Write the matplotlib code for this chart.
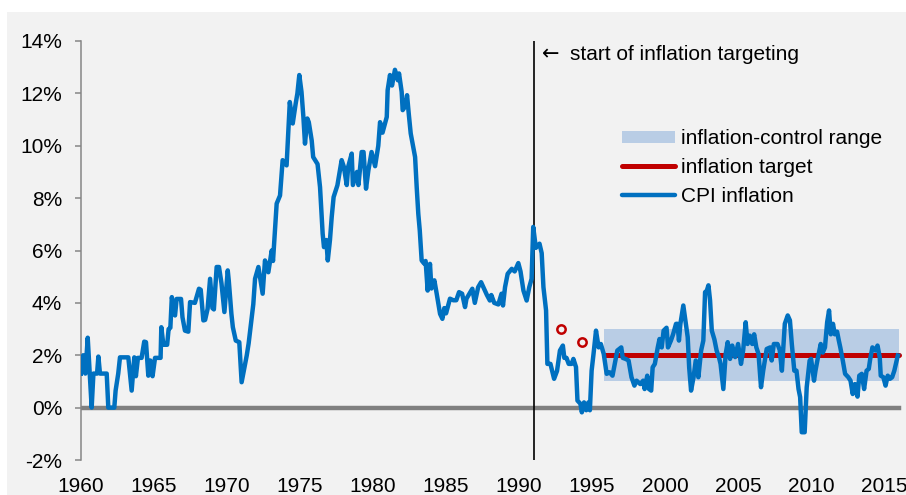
import matplotlib
matplotlib.use("Agg")
import matplotlib.pyplot as plt
from matplotlib.patches import Rectangle, Patch
from matplotlib.lines import Line2D

plt.rcParams['font.family'] = ['Liberation Sans', 'DejaVu Sans']

# CPI inflation (y/y, %)
years = [
    1960.00, 1960.15, 1960.30, 1960.46, 1960.60, 1960.73, 1960.85, 1961.10, 1961.19, 1961.30,
    1961.76, 1961.87, 1962.28, 1962.37, 1962.55, 1962.67, 1963.24, 1963.35, 1963.47, 1963.65,
    1963.76, 1963.90, 1964.15, 1964.33, 1964.45, 1964.61, 1964.75, 1964.90, 1965.07, 1965.45,
    1965.50, 1965.64, 1965.90, 1966.00, 1966.12, 1966.22, 1966.44, 1966.55, 1966.85, 1966.95,
    1967.12, 1967.35, 1967.47, 1967.80, 1968.08, 1968.20, 1968.38, 1968.50, 1968.67, 1968.84,
    1969.00, 1969.10, 1969.29, 1969.45, 1969.62, 1969.82, 1970.05, 1970.12, 1970.30, 1970.40,
    1970.60, 1970.84, 1971.00, 1971.15, 1971.35, 1971.48, 1971.69, 1971.80, 1971.92, 1972.15,
    1972.30, 1972.44, 1972.60, 1972.83, 1973.06, 1973.15, 1973.40, 1973.63, 1973.81, 1974.08,
    1974.20, 1974.30, 1974.50, 1974.70, 1974.82, 1974.95, 1975.10, 1975.23, 1975.34, 1975.50,
    1975.60, 1975.80, 1975.90, 1976.20, 1976.37, 1976.55, 1976.64, 1976.80, 1976.90, 1977.05,
    1977.17, 1977.30, 1977.56, 1977.85, 1978.00, 1978.20, 1978.30, 1978.54, 1978.62, 1978.90,
    1979.00, 1979.22, 1979.35, 1979.52, 1979.68, 1979.90, 1980.14, 1980.36, 1980.48, 1980.65,
    1980.94, 1981.00, 1981.16, 1981.30, 1981.50, 1981.70, 1981.78, 1981.96, 1982.03, 1982.20,
    1982.33, 1982.45, 1982.58, 1982.88, 1982.99, 1983.10, 1983.20, 1983.33, 1983.50, 1983.60,
    1983.74, 1983.90, 1984.00, 1984.20, 1984.36, 1984.59, 1984.75, 1984.88, 1985.00, 1985.27,
    1985.50, 1985.70, 1985.89, 1986.10, 1986.30, 1986.40, 1986.60, 1986.80, 1986.97, 1987.20,
    1987.40, 1987.60, 1987.80, 1988.00, 1988.10, 1988.30, 1988.58, 1988.80, 1988.90, 1989.04,
    1989.22, 1989.50, 1989.70, 1989.95, 1990.10, 1990.30, 1990.52, 1990.70, 1990.86, 1990.97,
    1991.15, 1991.40, 1991.55, 1991.67, 1991.85, 1991.94, 1992.15, 1992.40, 1992.60, 1992.80,
    1993.00, 1993.10, 1993.25, 1993.40, 1993.60, 1993.72, 1993.90, 1994.00, 1994.20, 1994.30,
    1994.45, 1994.60, 1994.75, 1994.85, 1994.97, 1995.10, 1995.27, 1995.45, 1995.60, 1995.80,
    1996.00, 1996.20, 1996.40, 1996.60, 1996.73, 1997.00, 1997.10, 1997.30, 1997.50, 1997.70,
    1997.90, 1998.05, 1998.30, 1998.50, 1998.60, 1998.78, 1998.90, 1999.05, 1999.15, 1999.30,
    1999.50, 1999.62, 1999.77, 1999.90, 2000.10, 2000.20, 2000.40, 2000.55, 2000.75, 2000.85,
    2000.95, 2001.05, 2001.25, 2001.40, 2001.55, 2001.65, 2001.78, 2001.95, 2002.10, 2002.28,
    2002.47, 2002.62, 2002.74, 2002.85, 2002.97, 2003.08, 2003.20, 2003.38, 2003.53, 2003.70,
    2003.80, 2003.99, 2004.15, 2004.29, 2004.45, 2004.60, 2004.80, 2005.00, 2005.20, 2005.35,
    2005.52, 2005.65, 2005.80, 2005.97, 2006.10, 2006.25, 2006.40, 2006.57, 2006.72, 2006.96,
    2007.20, 2007.30, 2007.45, 2007.70, 2007.85, 2008.00, 2008.20, 2008.40, 2008.55, 2008.68,
    2008.85, 2009.00, 2009.14, 2009.25, 2009.36, 2009.56, 2009.70, 2009.90, 2010.00, 2010.20,
    2010.30, 2010.45, 2010.66, 2010.80, 2010.95, 2011.10, 2011.23, 2011.35, 2011.50, 2011.62,
    2011.78, 2011.90, 2012.00, 2012.17, 2012.33, 2012.55, 2012.70, 2012.85, 2013.00, 2013.18,
    2013.30, 2013.47, 2013.63, 2013.80, 2013.95, 2014.05, 2014.20, 2014.40, 2014.55, 2014.70,
    2014.77, 2014.95, 2015.10, 2015.25, 2015.40, 2015.55, 2015.70, 2015.94,
]
cpi = [
    1.30, 2.00, 1.30, 2.67, 1.30, 0.00, 1.30, 1.30, 1.95, 1.30,
    1.30, 0.00, 0.00, 0.65, 1.30, 1.92, 1.92, 1.30, 0.65, 1.92,
    1.20, 1.90, 1.90, 2.52, 2.50, 1.22, 1.80, 1.20, 1.90, 1.90,
    3.07, 2.40, 2.40, 3.00, 3.05, 4.22, 3.52, 4.15, 4.15, 3.45,
    2.94, 2.90, 4.03, 4.00, 4.54, 4.50, 3.33, 3.35, 3.77, 4.92,
    3.80, 3.75, 5.37, 5.37, 4.75, 3.65, 5.24, 4.85, 3.58, 3.07,
    2.56, 2.50, 0.97, 1.40, 1.99, 2.45, 3.45, 3.95, 4.92, 5.37,
    4.85, 4.35, 5.62, 5.17, 6.00, 5.60, 7.79, 8.10, 9.45, 9.25,
    10.53, 11.67, 10.85, 11.60, 12.00, 12.70, 12.06, 11.10, 10.08, 11.04,
    10.90, 10.20, 9.57, 9.30, 8.42, 6.64, 6.13, 6.40, 5.62, 6.40,
    7.28, 8.04, 8.49, 9.45, 9.20, 8.50, 9.20, 9.70, 8.50, 9.00,
    8.50, 9.76, 9.76, 8.36, 9.06, 9.76, 9.22, 10.00, 10.90, 10.50,
    11.10, 12.12, 12.70, 12.30, 12.90, 12.50, 12.76, 12.06, 11.36, 11.50,
    11.93, 11.20, 10.47, 9.57, 8.42, 7.40, 6.77, 5.62, 5.50, 5.60,
    4.47, 5.49, 4.55, 4.86, 4.35, 3.58, 3.39, 3.80, 3.60, 4.16,
    4.10, 4.10, 4.41, 4.35, 3.84, 4.16, 4.35, 4.54, 4.00, 4.60,
    4.79, 4.54, 4.30, 4.09, 4.30, 4.00, 3.94, 4.35, 3.90, 4.60,
    5.11, 5.30, 5.20, 5.52, 5.20, 4.47, 4.09, 4.60, 4.92, 6.90,
    6.10, 6.26, 5.90, 4.60, 3.71, 1.67, 1.67, 1.10, 1.40, 2.18,
    2.37, 1.90, 1.90, 1.67, 1.67, 1.86, 1.55, 0.27, 0.15, -0.18,
    0.20, -0.10, 0.20, -0.10, 1.41, 2.05, 2.94, 2.30, 2.43, 2.05,
    1.29, 1.35, 1.22, 1.80, 2.18, 2.30, 1.90, 1.86, 1.80, 1.16,
    0.84, 1.03, 0.90, 1.03, 0.71, 1.22, 0.71, 0.65, 1.54, 1.67,
    2.30, 2.62, 2.30, 2.94, 3.05, 2.30, 2.56, 2.80, 3.20, 3.20,
    2.56, 3.20, 3.90, 3.30, 2.69, 1.54, 0.65, 1.16, 1.80, 1.16,
    2.18, 2.56, 4.41, 4.45, 4.67, 4.10, 2.94, 2.60, 2.18, 1.90,
    1.67, 0.71, 2.05, 2.50, 1.86, 2.37, 1.93, 2.43, 1.67, 2.20,
    3.26, 2.43, 2.75, 2.43, 2.80, 2.30, 2.05, 0.78, 1.41, 2.24,
    2.30, 1.80, 2.43, 2.43, 2.20, 1.41, 3.20, 3.52, 3.33, 2.43,
    1.41, 1.41, 0.71, 0.40, -0.94, -0.94, 0.78, 1.80, 1.86, 1.03,
    1.41, 1.86, 2.43, 2.10, 2.30, 3.26, 3.71, 2.80, 3.20, 2.80,
    2.90, 2.56, 2.30, 1.80, 1.29, 1.16, 1.03, 0.52, 0.90, 0.42,
    1.22, 1.29, 0.71, 1.41, 1.48, 1.86, 2.30, 2.18, 2.37, 1.93,
    1.22, 1.16, 0.84, 1.22, 1.10, 1.16, 1.41, 1.99,
]

# inflation target and control range (from late 1995)
target_start = 1995.85
target_end = 2016.0
target = 2.0
range_low = 1.0
range_high = 3.0

# early disinflation targets
early_target_years = [1992.9, 1994.3]
early_target_values = [3.0, 2.5]

targeting_start = 1991.0

ytick_vals = [-2, 0, 2, 4, 6, 8, 10, 12, 14]
ytick_labels = ['-2%', '0%', '2%', '4%', '6%', '8%', '10%', '12%', '14%']
xtick_vals = [1960, 1965, 1970, 1975, 1980, 1985, 1990, 1995, 2000, 2005, 2010, 2015]

blue = '#0070C0'
red = '#C00000'
band = '#B9CDE5'
bg = '#F2F2F2'

fig = plt.figure(figsize=(9.06, 4.95), dpi=100, facecolor='white')
fig.patches.append(Rectangle((7 / 906, 0), 1, 1 - 12 / 495, transform=fig.transFigure,
                             facecolor=bg, edgecolor='none', zorder=-10))
ax = fig.add_axes([81 / 906, 35 / 495, 825 / 906, 419 / 495])
ax.set_facecolor(bg)

ax.fill_between([target_start, target_end], range_low, range_high, color=band, lw=0, zorder=1)
ax.plot([1960, target_end], [0, 0], color='#808080', lw=3.2, zorder=2)
ax.plot([target_start, target_end], [target, target], color=red, lw=3.6,
        solid_capstyle='round', zorder=3)
ax.axvline(targeting_start, color='black', lw=1.2, zorder=4)
ax.plot(years, cpi, color=blue, lw=3.2, solid_joinstyle='round', zorder=5)
ax.plot(early_target_years, early_target_values, ls='none', marker='o', ms=6,
        mfc='none', mec=red, mew=1.8, zorder=6)

# annotation: arrow glyph from DejaVu (wider), words in the Arial-like font
ax.text(1991.55, 13.5, '\u2190', fontsize=15, va='center', ha='left', family='DejaVu Sans')
ax.text(1993.5, 13.5, 'start of inflation targeting', fontsize=15, va='center', ha='left')

ax.set_xlim(1960, 2016.5)
ax.set_ylim(-2, 14)
ax.set_yticks(ytick_vals)
ax.set_yticklabels(ytick_labels)
ax.set_xticks(xtick_vals)
ax.set_xticklabels([str(v) for v in xtick_vals])

for s in ['top', 'right', 'bottom']:
    ax.spines[s].set_visible(False)
ax.spines['left'].set_color('#868686')
ax.spines['left'].set_linewidth(1.1)
ax.tick_params(axis='y', direction='out', length=4.5, width=1.1, color='#868686',
               labelsize=15, pad=9)
ax.tick_params(axis='x', length=0, labelsize=15, pad=12)

handles = [
    Patch(facecolor=band, edgecolor='none'),
    Line2D([], [], color=red, lw=3.6, solid_capstyle='round'),
    Line2D([], [], color=blue, lw=3.2, solid_capstyle='round'),
]
labels = ['inflation-control range', 'inflation target', 'CPI inflation']
ax.legend(handles, labels, loc='upper left', bbox_to_anchor=(622 / 906, 1 - 129 / 495),
          bbox_transform=fig.transFigure, frameon=False, fontsize=15, borderpad=0,
          handlelength=2.55, handleheight=0.5, handletextpad=0.3, labelspacing=0.47,
          borderaxespad=0)

fig.savefig('out.png', dpi=100, facecolor=fig.get_facecolor())
